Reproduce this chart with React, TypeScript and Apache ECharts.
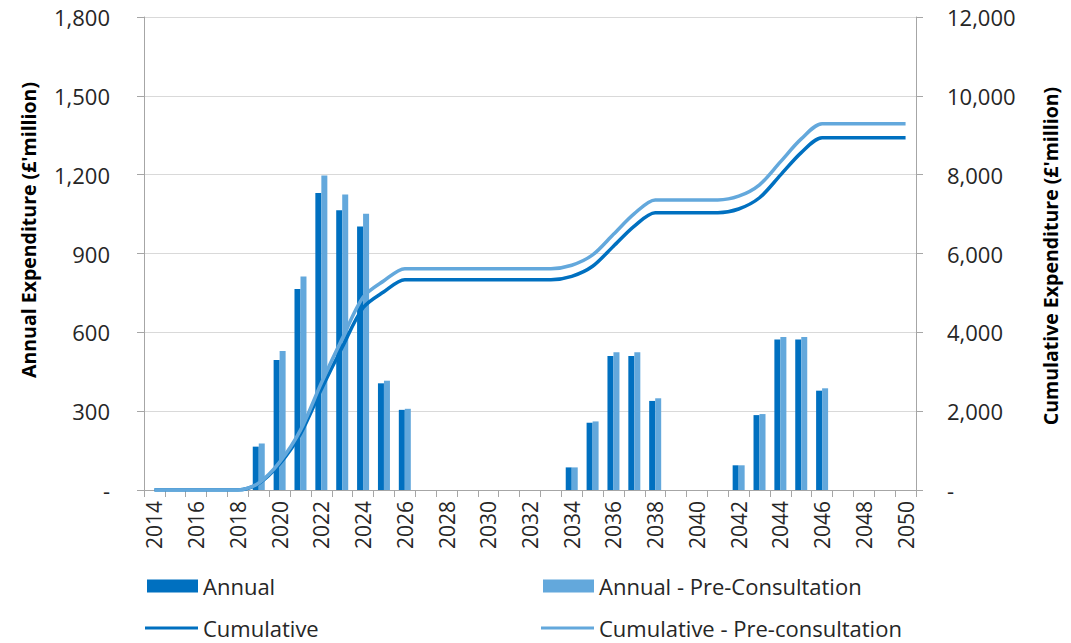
import React, { useEffect, useRef } from "react";
import * as echarts from "echarts";

const years = [
  "2014","2015","2016","2017","2018","2019","2020","2021","2022","2023","2024","2025","2026",
  "2027","2028","2029","2030","2031","2032","2033","2034","2035","2036","2037","2038","2039",
  "2040","2041","2042","2043","2044","2045","2046","2047","2048","2049","2050",
];

const annual = [
  0, 0, 0, 0, 0, 165, 495, 765, 1130, 1065, 1003, 406, 305,
  0, 0, 0, 0, 0, 0, 0, 86, 256, 510, 510, 339, 0,
  0, 0, 94, 285, 573, 573, 378, 0, 0, 0, 0,
];

const annualPre = [
  0, 0, 0, 0, 0, 177, 529, 812, 1197, 1125, 1051, 416, 309,
  0, 0, 0, 0, 0, 0, 0, 86, 261, 524, 524, 349, 0,
  0, 0, 94, 289, 582, 582, 387, 0, 0, 0, 0,
];

const cumulative = [
  0, 0, 0, 0, 0, 165, 660, 1425, 2555, 3620, 4623, 5029, 5334,
  5334, 5334, 5334, 5334, 5334, 5334, 5334, 5420, 5676, 6186, 6696, 7035, 7035,
  7035, 7035, 7129, 7414, 7987, 8560, 8938, 8938, 8938, 8938, 8938,
];

const cumulativePre = [
  0, 0, 0, 0, 0, 177, 706, 1518, 2715, 3840, 4891, 5307, 5616,
  5616, 5616, 5616, 5616, 5616, 5616, 5616, 5702, 5963, 6487, 7011, 7360, 7360,
  7360, 7360, 7454, 7743, 8325, 8907, 9294, 9294, 9294, 9294, 9294,
];

const seriesNames = [
  "Annual",
  "Annual - Pre-Consultation",
  "Cumulative",
  "Cumulative - Pre-consultation",
];

const DARK = "#0070C0";
const LIGHT = "#63A8DC";
const FONT = "'Open Sans', 'Noto Sans', sans-serif";
const TEXT = "#262626";
const AXIS = "#a6a6a6";

const fmt = (v: number) => (v === 0 ? "-" : v.toLocaleString("en-US"));

export default function App() {
  const ref = useRef<HTMLDivElement>(null);
  useEffect(() => {
    if (!ref.current) return;
    const chart = echarts.init(ref.current, undefined, { renderer: "svg" });
    const legendText = { fontFamily: FONT, fontSize: 22, color: TEXT, lineHeight: 22 };
    chart.setOption({
      animation: false,
      backgroundColor: "#ffffff",
      textStyle: { fontFamily: FONT },
      grid: { left: 144, right: 155, top: 17, bottom: 153, containLabel: false },
      legend: [
        {
          left: 147, top: 575, padding: 0, itemWidth: 51, itemHeight: 13, itemGap: 0,
          textStyle: legendText, selectedMode: false,
          data: [{ name: seriesNames[0], icon: "rect" }],
        },
        {
          left: 543, top: 575, padding: 0, itemWidth: 51, itemHeight: 13, itemGap: 0,
          textStyle: legendText, selectedMode: false,
          data: [{ name: seriesNames[1], icon: "rect" }],
        },
        {
          left: 145, top: 617, padding: 0, itemWidth: 53, itemHeight: 3, itemGap: 0,
          textStyle: legendText, selectedMode: false,
          data: [{ name: seriesNames[2], icon: "rect" }],
        },
        {
          left: 541, top: 617, padding: 0, itemWidth: 53, itemHeight: 3, itemGap: 0,
          textStyle: legendText, selectedMode: false,
          data: [{ name: seriesNames[3], icon: "rect" }],
        },
      ],
      xAxis: {
        type: "category",
        data: years,
        boundaryGap: true,
        axisLine: { lineStyle: { color: AXIS, width: 1 } },
        axisTick: { show: true, interval: 0, length: 7, lineStyle: { color: AXIS } },
        axisLabel: {
          interval: 1,
          rotate: 90,
          margin: 11,
          fontFamily: FONT,
          fontSize: 21,
          color: TEXT,
        },
        splitLine: { show: false },
      },
      yAxis: [
        {
          type: "value",
          min: 0,
          max: 1800,
          interval: 300,
          axisLine: { show: true, lineStyle: { color: AXIS } },
          axisTick: { show: true, length: 7, lineStyle: { color: AXIS } },
          axisLabel: {
            formatter: fmt,
            margin: 34,
            fontFamily: FONT,
            fontSize: 22,
            color: TEXT,
          },
          splitLine: { show: true, lineStyle: { color: "#d9d9d9", width: 1 } },
        },
        {
          type: "value",
          min: 0,
          max: 12000,
          interval: 2000,
          position: "right",
          axisLine: { show: true, lineStyle: { color: AXIS } },
          axisTick: { show: true, length: 7, lineStyle: { color: AXIS } },
          axisLabel: {
            formatter: fmt,
            margin: 31,
            fontFamily: FONT,
            fontSize: 22,
            color: TEXT,
          },
          splitLine: { show: false },
        },
      ],
      graphic: [
        {
          type: "text",
          x: 28,
          y: 230,
          rotation: Math.PI / 2,
          style: {
            text: "Annual Expenditure (£'million)",
            fontFamily: FONT,
            fontWeight: "bold",
            fontSize: 19.5,
            fill: "#000000",
            textAlign: "center",
            textVerticalAlign: "middle",
          },
        },
        {
          type: "text",
          x: 1050,
          y: 256,
          rotation: Math.PI / 2,
          style: {
            text: "Cumulative Expenditure (£'million)",
            fontFamily: FONT,
            fontWeight: "bold",
            fontSize: 19.5,
            fill: "#000000",
            textAlign: "center",
            textVerticalAlign: "middle",
          },
        },
      ],
      series: [
        {
          name: seriesNames[0],
          type: "bar",
          yAxisIndex: 0,
          data: annual,
          barWidth: 6,
          barGap: "0%",
          itemStyle: { color: DARK },
        },
        {
          name: seriesNames[1],
          type: "bar",
          yAxisIndex: 0,
          data: annualPre,
          barWidth: 6,
          barGap: "0%",
          itemStyle: { color: LIGHT },
        },
        {
          name: seriesNames[2],
          type: "line",
          yAxisIndex: 1,
          data: cumulative,
          smooth: 0.3,
          symbol: "none",
          lineStyle: { color: DARK, width: 3.5 },
          itemStyle: { color: DARK },
        },
        {
          name: seriesNames[3],
          type: "line",
          yAxisIndex: 1,
          data: cumulativePre,
          smooth: 0.3,
          symbol: "none",
          lineStyle: { color: LIGHT, width: 3.5 },
          itemStyle: { color: LIGHT },
        },
      ],
    });
    return () => chart.dispose();
  }, []);
  return (
    <div
      ref={ref}
      style={{ position: "fixed", left: 0, top: 0, width: 1071, height: 643 }}
    />
  );
}
